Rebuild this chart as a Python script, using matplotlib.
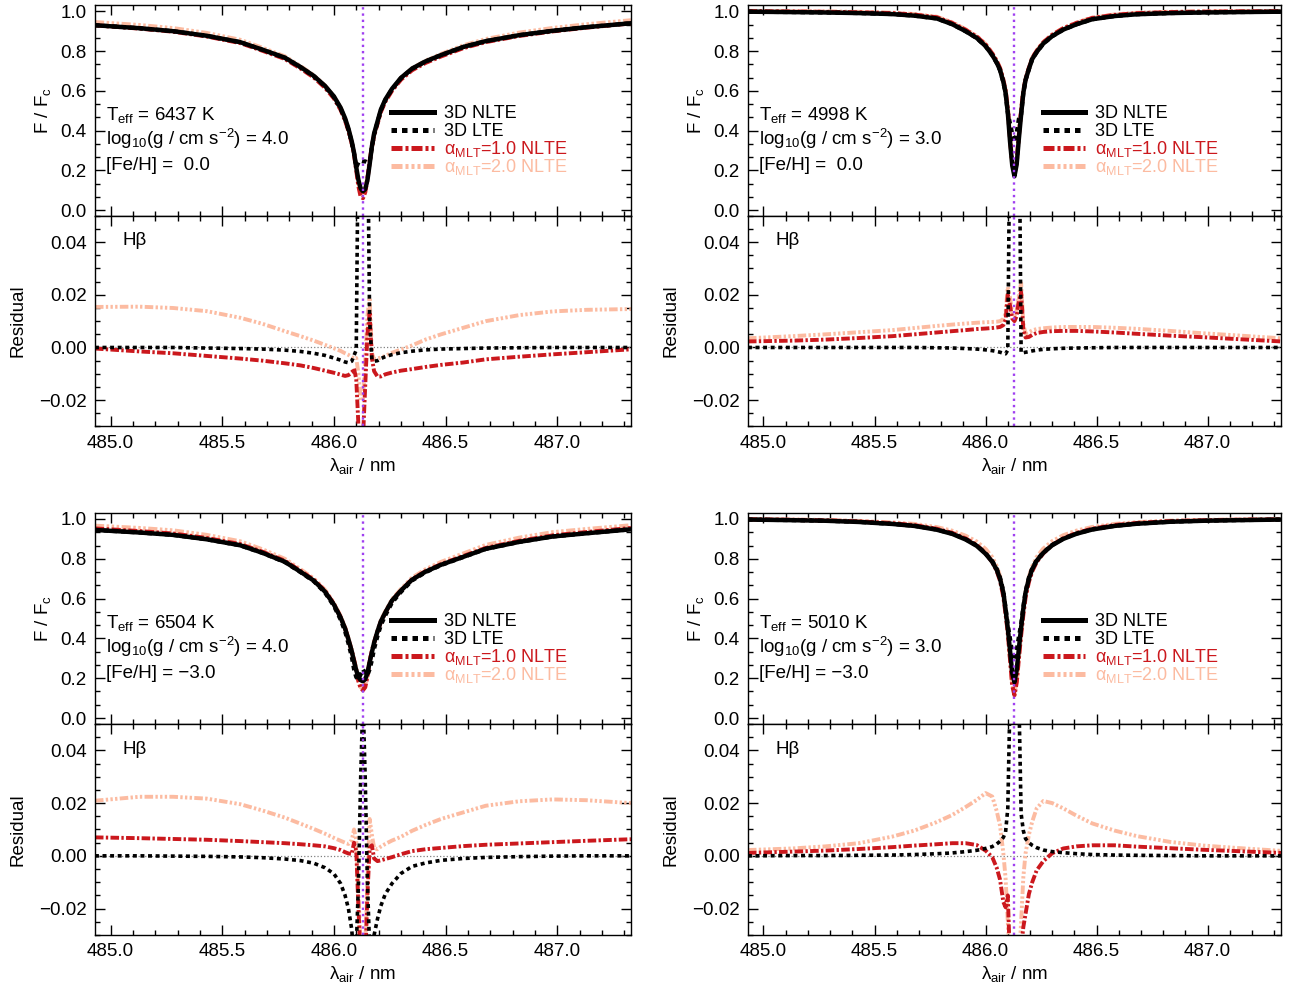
import numpy as np
import matplotlib
matplotlib.use('Agg')
import matplotlib.pyplot as plt
from matplotlib.ticker import MultipleLocator, AutoMinorLocator, FuncFormatter

plt.rcParams['font.family'] = ['Liberation Sans', 'DejaVu Sans']
plt.rcParams['mathtext.fontset'] = 'custom'
plt.rcParams['mathtext.rm'] = 'Liberation Sans'
plt.rcParams['mathtext.it'] = 'Liberation Sans:italic'
plt.rcParams['mathtext.bf'] = 'Liberation Sans:bold'

# wavelength grid (nm, air), denser around the H-beta core
wl = [484.93, 485.13, 485.28, 485.43, 485.58, 485.68, 485.78, 485.85, 485.91, 485.96,
      486.00, 486.03, 486.05, 486.065, 486.08, 486.09, 486.10, 486.11, 486.12, 486.13,
      486.14, 486.15, 486.16, 486.17, 486.18, 486.195, 486.21, 486.23, 486.26, 486.30,
      486.35, 486.41, 486.48, 486.58, 486.68, 486.83, 486.98, 487.13, 487.33]
line_centre = 486.13

# panel 1: Teff 6437, logg 4.0, [Fe/H] 0.0
flux_1 = [0.930, 0.915, 0.900, 0.877, 0.845, 0.807, 0.767, 0.720, 0.675, 0.625,
          0.572, 0.515, 0.462, 0.410, 0.345, 0.290, 0.215, 0.150, 0.108, 0.095,
          0.105, 0.150, 0.230, 0.320, 0.385, 0.445, 0.505, 0.556, 0.610, 0.665,
          0.712, 0.748, 0.780, 0.821, 0.850, 0.880, 0.902, 0.920, 0.940]
lte_1 = [0.0, 0.0, 0.0, -0.0002, -0.0004, -0.0006, -0.0010, -0.0015, -0.0022, -0.0030,
         -0.0040, -0.0048, -0.0055, -0.0058, -0.0052, -0.0030, -0.0010, 0.090, 0.140, 0.150,
         0.140, 0.090, 0.010, -0.0045, -0.0052, -0.0050, -0.0042, -0.0035, -0.0027, -0.0020,
         -0.0014, -0.0009, -0.0006, -0.0004, -0.0002, -0.0001, 0.0, 0.0, 0.0]
mlt1_1 = [-0.0004, -0.0015, -0.0022, -0.0032, -0.0042, -0.0050, -0.0060, -0.0068, -0.0078, -0.0088,
          -0.0096, -0.0103, -0.0108, -0.0105, -0.0095, -0.0080, -0.0120, -0.0300, -0.0400, -0.0350,
          -0.0150, 0.0050, 0.0130, -0.0040, -0.0090, -0.0110, -0.0110, -0.0102, -0.0095, -0.0088,
          -0.0082, -0.0074, -0.0066, -0.0057, -0.0045, -0.0035, -0.0026, -0.0018, -0.0007]
mlt2_1 = [0.0154, 0.0155, 0.0150, 0.0138, 0.0113, 0.0090, 0.0062, 0.0043, 0.0026, 0.0010,
          -0.0003, -0.0013, -0.0022, -0.0028, -0.0036, -0.0042, -0.0040, -0.0100, -0.0200, -0.0200,
          -0.0050, 0.0120, 0.0190, -0.0020, -0.0045, -0.0042, -0.0038, -0.0032, -0.0020, -0.0008,
          0.0008, 0.0030, 0.0050, 0.0075, 0.0100, 0.0123, 0.0137, 0.0143, 0.0146]

# panel 2: Teff 4998, logg 3.0, [Fe/H] 0.0
flux_2 = [0.998, 0.996, 0.994, 0.991, 0.986, 0.978, 0.964, 0.935, 0.900, 0.866,
          0.825, 0.780, 0.742, 0.705, 0.645, 0.590, 0.490, 0.345, 0.225, 0.170,
          0.230, 0.360, 0.480, 0.590, 0.655, 0.710, 0.760, 0.795, 0.838, 0.875,
          0.908, 0.935, 0.960, 0.976, 0.985, 0.991, 0.994, 0.996, 0.998]
lte_2 = [0.0, 0.0, 0.0, 0.0, 0.0, 0.0, -0.0001, -0.0002, -0.0004, -0.0006,
         -0.0009, -0.0012, -0.0015, -0.0018, -0.0022, -0.0024, -0.0010, 0.090, 0.160, 0.170,
         0.160, 0.100, -0.0020, -0.0020, -0.0018, -0.0016, -0.0013, -0.0010, -0.0007, -0.0005,
         -0.0003, -0.0002, -0.0001, 0.0, 0.0, 0.0, 0.0, 0.0, 0.0]
mlt1_2 = [0.0023, 0.0026, 0.0030, 0.0036, 0.0043, 0.0050, 0.0057, 0.0062, 0.0066, 0.0070,
          0.0072, 0.0074, 0.0076, 0.0078, 0.0085, 0.0105, 0.0200, 0.0160, 0.0110, 0.0100,
          0.0120, 0.0180, 0.0210, 0.0070, 0.0038, 0.0040, 0.0048, 0.0055, 0.0059, 0.0062,
          0.0063, 0.0063, 0.0061, 0.0057, 0.0052, 0.0045, 0.0039, 0.0032, 0.0023]
mlt2_2 = [0.0035, 0.0043, 0.0050, 0.0058, 0.0066, 0.0074, 0.0082, 0.0087, 0.0091, 0.0094,
          0.0096, 0.0097, 0.0098, 0.0100, 0.0108, 0.0130, 0.0230, 0.0190, 0.0130, 0.0120,
          0.0140, 0.0200, 0.0245, 0.0090, 0.0052, 0.0058, 0.0065, 0.0070, 0.0073, 0.0076,
          0.0078, 0.0078, 0.0078, 0.0075, 0.0071, 0.0063, 0.0054, 0.0046, 0.0035]

# panel 3: Teff 6504, logg 4.0, [Fe/H] -3.0
flux_3 = [0.945, 0.932, 0.920, 0.898, 0.868, 0.830, 0.785, 0.735, 0.690, 0.635,
          0.570, 0.505, 0.450, 0.395, 0.335, 0.285, 0.240, 0.205, 0.190, 0.185,
          0.195, 0.225, 0.280, 0.330, 0.378, 0.435, 0.485, 0.530, 0.590, 0.640,
          0.695, 0.735, 0.770, 0.810, 0.850, 0.885, 0.912, 0.928, 0.948]
lte_3 = [0.0, 0.0, -0.0001, -0.0002, -0.0004, -0.0007, -0.0012, -0.0018, -0.0028, -0.0045,
         -0.0068, -0.0105, -0.0150, -0.0200, -0.0280, -0.0400, -0.0350, -0.0100, 0.0300, 0.0600,
         0.0300, -0.0100, -0.0350, -0.0400, -0.0300, -0.0240, -0.0190, -0.0145, -0.0105, -0.0067,
         -0.0040, -0.0027, -0.0017, -0.0010, -0.0006, -0.0003, -0.0001, 0.0, 0.0]
mlt1_3 = [0.0070, 0.0067, 0.0064, 0.0061, 0.0056, 0.0052, 0.0048, 0.0044, 0.0040, 0.0036,
          0.0029, 0.0022, 0.0014, 0.0009, 0.0007, 0.0050, 0.0020, -0.0200, -0.0400, -0.0450,
          -0.0400, -0.0150, 0.0030, 0.0040, -0.0010, -0.0020, -0.0017, -0.0012, -0.0005, 0.0006,
          0.0018, 0.0025, 0.0030, 0.0037, 0.0042, 0.0047, 0.0052, 0.0057, 0.0063]
mlt2_3 = [0.0209, 0.0224, 0.0224, 0.0217, 0.0196, 0.0172, 0.0145, 0.0122, 0.0102, 0.0084,
          0.0068, 0.0057, 0.0050, 0.0045, 0.0060, 0.0100, 0.0060, -0.0150, -0.0350, -0.0400,
          -0.0350, -0.0100, 0.0140, 0.0080, 0.0030, 0.0025, 0.0035, 0.0045, 0.0058, 0.0072,
          0.0095, 0.0117, 0.0140, 0.0165, 0.0190, 0.0207, 0.0214, 0.0211, 0.0200]

# panel 4: Teff 5010, logg 3.0, [Fe/H] -3.0
flux_4 = [0.997, 0.994, 0.991, 0.985, 0.975, 0.965, 0.946, 0.925, 0.897, 0.865,
          0.825, 0.785, 0.745, 0.700, 0.630, 0.545, 0.450, 0.340, 0.225, 0.180,
          0.240, 0.350, 0.455, 0.550, 0.630, 0.700, 0.748, 0.790, 0.830, 0.868,
          0.900, 0.926, 0.947, 0.965, 0.976, 0.986, 0.991, 0.994, 0.997]
lte_4 = [0.0, 0.0001, 0.0001, 0.0002, 0.0003, 0.0005, 0.0008, 0.0011, 0.0016, 0.0021,
         0.0028, 0.0035, 0.0045, 0.0055, 0.0070, 0.0090, 0.0180, 0.0600, 0.1000, 0.1100,
         0.1000, 0.0600, 0.0160, 0.0095, 0.0065, 0.0050, 0.0040, 0.0031, 0.0022, 0.0016,
         0.0012, 0.0008, 0.0005, 0.0003, 0.0002, 0.0001, 0.0, 0.0, 0.0]
mlt1_4 = [0.0011, 0.0016, 0.0020, 0.0026, 0.0033, 0.0039, 0.0044, 0.0048, 0.0048, 0.0041,
          0.0020, -0.0005, -0.0045, -0.0090, -0.0175, -0.0195, -0.0150, -0.0400, -0.0600, -0.0650,
          -0.0600, -0.0450, -0.0350, -0.0270, -0.0220, -0.0145, -0.0100, -0.0055, -0.0020, 0.0010,
          0.0028, 0.0036, 0.0040, 0.0040, 0.0035, 0.0029, 0.0023, 0.0018, 0.0011]
mlt2_4 = [0.0022, 0.0028, 0.0036, 0.0048, 0.0073, 0.0096, 0.0128, 0.0155, 0.0185, 0.0212,
          0.0238, 0.0225, 0.0170, 0.0115, 0.0010, -0.0085, -0.0250, -0.0400, -0.0500, -0.0500,
          -0.0500, -0.0400, -0.0250, -0.0080, 0.0010, 0.0080, 0.0130, 0.0180, 0.0208, 0.0200,
          0.0180, 0.0152, 0.0123, 0.0096, 0.0075, 0.0053, 0.0039, 0.0030, 0.0019]

teff = ['6437', '4998', '6504', '5010']
logg = ['4.0', '3.0', '4.0', '3.0']
feh = [' 0.0', ' 0.0', '\u22123.0', '\u22123.0']
labels = ['3D NLTE', '3D LTE', r'α$_{\rm MLT}$=1.0 NLTE', r'α$_{\rm MLT}$=2.0 NLTE']

RED = '#cb181d'
SALMON = '#fcbba1'
PURPLE = '#a040f0'
FS = 13.5

styles = [
    dict(color='black', ls='-', lw=3.2),
    dict(color='black', ls=(0, (1.1, 1.0)), lw=3.0),
    dict(color=RED, ls=(0, (2.2, 0.6, 0.6, 0.6)), lw=3.0),
    dict(color=SALMON, ls=(0, (2.2, 0.6, 0.6, 0.6, 0.6, 0.6, 0.6, 0.6)), lw=3.0),
]
text_colors = ['black', 'black', RED, SALMON]

panels = [
    (flux_1, lte_1, mlt1_1, mlt2_1),
    (flux_2, lte_2, mlt1_2, mlt2_2),
    (flux_3, lte_3, mlt1_3, mlt2_3),
    (flux_4, lte_4, mlt1_4, mlt2_4),
]

# axes positions in figure fractions
col_x = [(0.0736, 0.4155), (0.5798, 0.4132)]
row_y = [(0.7818, 0.5692, 0.2128), (0.2687, 0.0556, 0.2131)]


def fmt(decimals):
    def f(v, pos):
        s = f'{v + 0.0:.{decimals}f}'
        if s.startswith('-') and float(s) == 0:
            s = s[1:]
        return s.replace('-', '\u2212')
    return FuncFormatter(f)


def style_axis(ax, ymajor, yminor_n):
    ax.xaxis.set_major_locator(MultipleLocator(0.5))
    ax.xaxis.set_minor_locator(AutoMinorLocator(5))
    ax.yaxis.set_major_locator(MultipleLocator(ymajor))
    ax.yaxis.set_minor_locator(AutoMinorLocator(yminor_n))
    ax.tick_params(which='both', direction='in', top=True, right=True, width=1)
    ax.tick_params(which='major', length=7, labelsize=FS, pad=6)
    ax.tick_params(which='minor', length=3.5)
    for s in ax.spines.values():
        s.set_linewidth(1.0)


fig = plt.figure(figsize=(12.9, 9.9), dpi=100)
wl_arr = np.array(wl)

for i, (flux, lte, m1, m2) in enumerate(panels):
    x0, w = col_x[i % 2]
    yb_top, yb_res, h = row_y[i // 2]
    ax_f = fig.add_axes([x0, yb_top, w, h])
    ax_r = fig.add_axes([x0, yb_res, w, h])

    flux = np.array(flux)
    res = [np.array(lte), np.array(m1), np.array(m2)]

    # upper panel: normalised flux
    ax_f.plot(wl_arr, flux + res[2], **styles[3])
    ax_f.plot(wl_arr, flux + res[1], **styles[2])
    ax_f.plot(wl_arr, flux, **styles[0])
    ax_f.plot(wl_arr, flux + res[0], **styles[1])
    ax_f.axvline(line_centre, color=PURPLE, ls=':', lw=1.7)
    ax_f.set_xlim(484.93, 487.33)
    ax_f.set_ylim(-0.03, 1.03)
    style_axis(ax_f, 0.2, 3)
    ax_f.tick_params(labelbottom=False)
    ax_f.yaxis.set_major_formatter(fmt(1))
    ax_f.set_ylabel(r'F / F$_{\rm c}$', fontsize=FS, labelpad=5)

    # stellar parameters
    params = [rf'T$_{{\rm eff}}$ = {teff[i]} K',
              rf'log$_{{10}}$(g / cm s$^{{-2}}$) = {logg[i]}',
              f'[Fe/H] = {feh[i]}']
    for k, txt in enumerate(params):
        ax_f.text(0.02, 0.456 - k * 0.118, txt, transform=ax_f.transAxes,
                  fontsize=FS, va='baseline', ha='left')

    # legend drawn by hand to get the tight IDL-like row spacing
    for k in range(4):
        yk = 0.495 - k * 0.086
        st = dict(styles[k])
        st['lw'] = 3.6
        ax_f.plot([0.553, 0.632], [yk, yk], transform=ax_f.transAxes, **st)
        ax_f.text(0.652, yk - 0.030, labels[k], transform=ax_f.transAxes,
                  fontsize=13, color=text_colors[k], va='baseline', ha='left')

    # lower panel: residuals
    ax_r.axhline(0.0, color='grey', ls=':', lw=0.9)
    ax_r.plot(wl_arr, res[2], **{**styles[3], 'lw': 2.8})
    ax_r.plot(wl_arr, res[1], **{**styles[2], 'lw': 2.8})
    ax_r.plot(wl_arr, res[0], **{**styles[1], 'lw': 2.6})
    ax_r.axvline(line_centre, color=PURPLE, ls=':', lw=1.7)
    ax_r.set_xlim(484.93, 487.33)
    ax_r.set_ylim(-0.03, 0.05)
    style_axis(ax_r, 0.02, 4)
    ax_r.yaxis.set_major_formatter(fmt(2))
    ax_r.xaxis.set_major_formatter(fmt(1))
    ax_r.set_ylabel('Residual', fontsize=FS, labelpad=9)
    ax_r.set_xlabel(r'λ$_{\rm air}$ / nm', fontsize=FS, labelpad=3)
    ax_r.text(0.052, 0.881, 'Hβ', transform=ax_r.transAxes, fontsize=FS,
              va='center', ha='left')

fig.savefig('out.png', dpi=100)
